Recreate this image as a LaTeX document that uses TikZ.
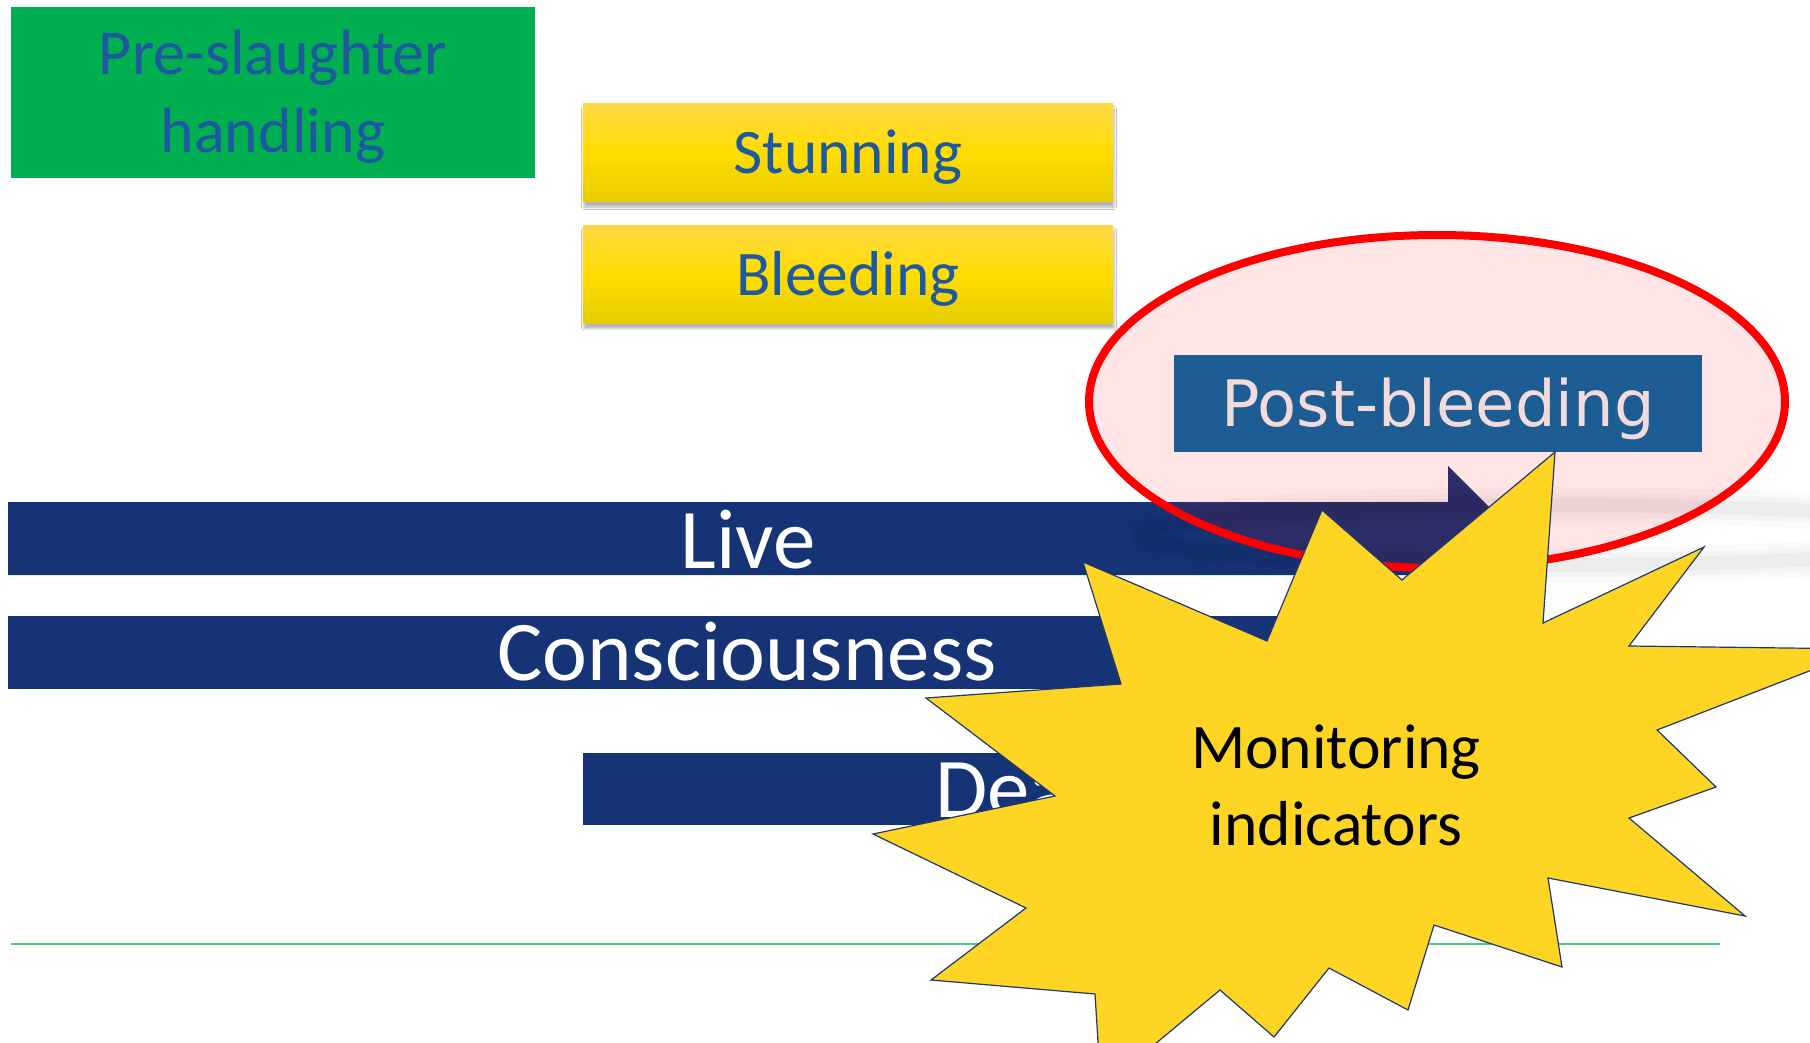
\documentclass[tikz,border=0pt]{standalone}
\usepackage{fontspec}
\setmainfont{Carlito}
\newfontfamily\dejavu{DejaVu Sans}
\usetikzlibrary{positioning, shadows.blur}
\definecolor{PreGreen}{RGB}{0, 176, 80}
\definecolor{StageBlue}{RGB}{30, 88, 158}
\definecolor{StepTop}{RGB}{255, 217, 70}
\definecolor{StepMid}{RGB}{255, 221, 0}
\definecolor{StepBottom}{RGB}{230, 204, 0}
\definecolor{BarNavy}{RGB}{22, 51, 118}
\definecolor{PostBlue}{RGB}{30, 92, 148}
\definecolor{PostText}{RGB}{242, 220, 219}
\definecolor{RingRed}{RGB}{255, 0, 0}
\definecolor{BurstYellow}{RGB}{254, 213, 35}
\definecolor{BurstEdge}{RGB}{31, 56, 110}
\definecolor{BaseGreen}{RGB}{80, 200, 120}

\begin{document}
\begin{tikzpicture}[x=1pt, y=-1pt,
    stagebox/.style={rectangle, inner sep=0pt, text=StageBlue},
    stepbox/.style={stagebox, top color=StepTop, bottom color=StepBottom, middle color=StepMid,
        minimum width=530pt, minimum height=98pt, font=\fontsize{63.5}{76}\selectfont,
        text height=42pt, text depth=0pt,
        blur shadow={shadow xshift=1pt, shadow yshift=-5pt, shadow blur radius=2.5pt, shadow opacity=30}},
    barbox/.style={rectangle, inner sep=0pt, fill=BarNavy, text=white, minimum height=73pt,
        font=\fontsize{85}{100}\selectfont, text height=56pt, text depth=0pt},
    bartext/.style={inner sep=0pt, text=white, font=\fontsize{85}{100}\selectfont,
        text height=56pt, text depth=0pt}]
    \useasboundingbox (0,0) rectangle (1810,1043);
    \clip (0,0) rectangle (1810,1043);
    \fill[white] (0,0) rectangle (1810,1043);

    % Etapas
    \node[stagebox, fill=PreGreen, minimum width=524pt, minimum height=171pt] (pre) at (273,92.5) {};
    \node[align=center, inner sep=0pt, text=StageBlue, font=\fontsize{64}{78}\selectfont]
        (pretext) at (273,97) {Pre-slaughter\\handling};
    \node[stepbox] (stun) at (848,153) {Stunning};
    \node[stepbox, below=23pt of stun] (bleed) {Bleeding};

    % Live (flecha)
    \draw[fill=BarNavy, draw=none] (8,502) -- (1448,502) -- (1448,466) -- (1520,538)
        -- (1448,610) -- (1448,575) -- (8,575) -- cycle;
    \node[bartext] (live) at (748,540) {Live};

    % Consciousness, Death
    \node[barbox, minimum width=1478pt] (cons) at (747,652.5) {Consciousness};
    \node[barbox, minimum width=912pt, minimum height=72pt] (death) at (1039,789) {Death};

    % sombra
    \foreach \w/\o in {36/0.02, 24/0.025, 14/0.03}
        \draw[black, opacity=\o, line width=\w pt] (1560,535) ellipse [x radius=420, y radius=30];

    % Post-bleeding
    \draw[RingRed, line width=8pt, fill=RingRed, fill opacity=0.1] (1437,401.5)
        ellipse [x radius=348, y radius=166.5];
    \node[rectangle, inner sep=0pt, fill=PostBlue, text=PostText, minimum width=528pt,
        minimum height=97pt, font=\dejavu\fontsize{64}{77}\selectfont,
        text height=46.7pt, text depth=0pt] (post) at (1438,403.5) {Post-bleeding};

    % linea
    \draw[BaseGreen, line width=2pt] (11,944) -- (1720,944);

    % Estrella
    \draw[fill=BurstYellow, draw=BurstEdge, line width=1.2pt, line join=miter]
        (1555,452) -- (1543,623) -- (1704,547) -- (1629,646) -- (1866,649) -- (1657,730)
        -- (1716,787) -- (1629,818) -- (1745,916) -- (1548,878) -- (1562,967) -- (1434,925)
        -- (1408,1010) -- (1329,968) -- (1274,1037) -- (1220,990) -- (1101,1089) -- (1095,994)
        -- (931,980) -- (1026,908) -- (873,834) -- (1055,796) -- (926,698) -- (1121,684)
        -- (1083,562) -- (1267,641) -- (1322,510) -- (1402,580) -- cycle;
    \node[align=center, inner sep=0pt, font=\fontsize{63.5}{77}\selectfont] (mon) at (1336,785)
        {Monitoring\\indicators};
\end{tikzpicture}
\end{document}
